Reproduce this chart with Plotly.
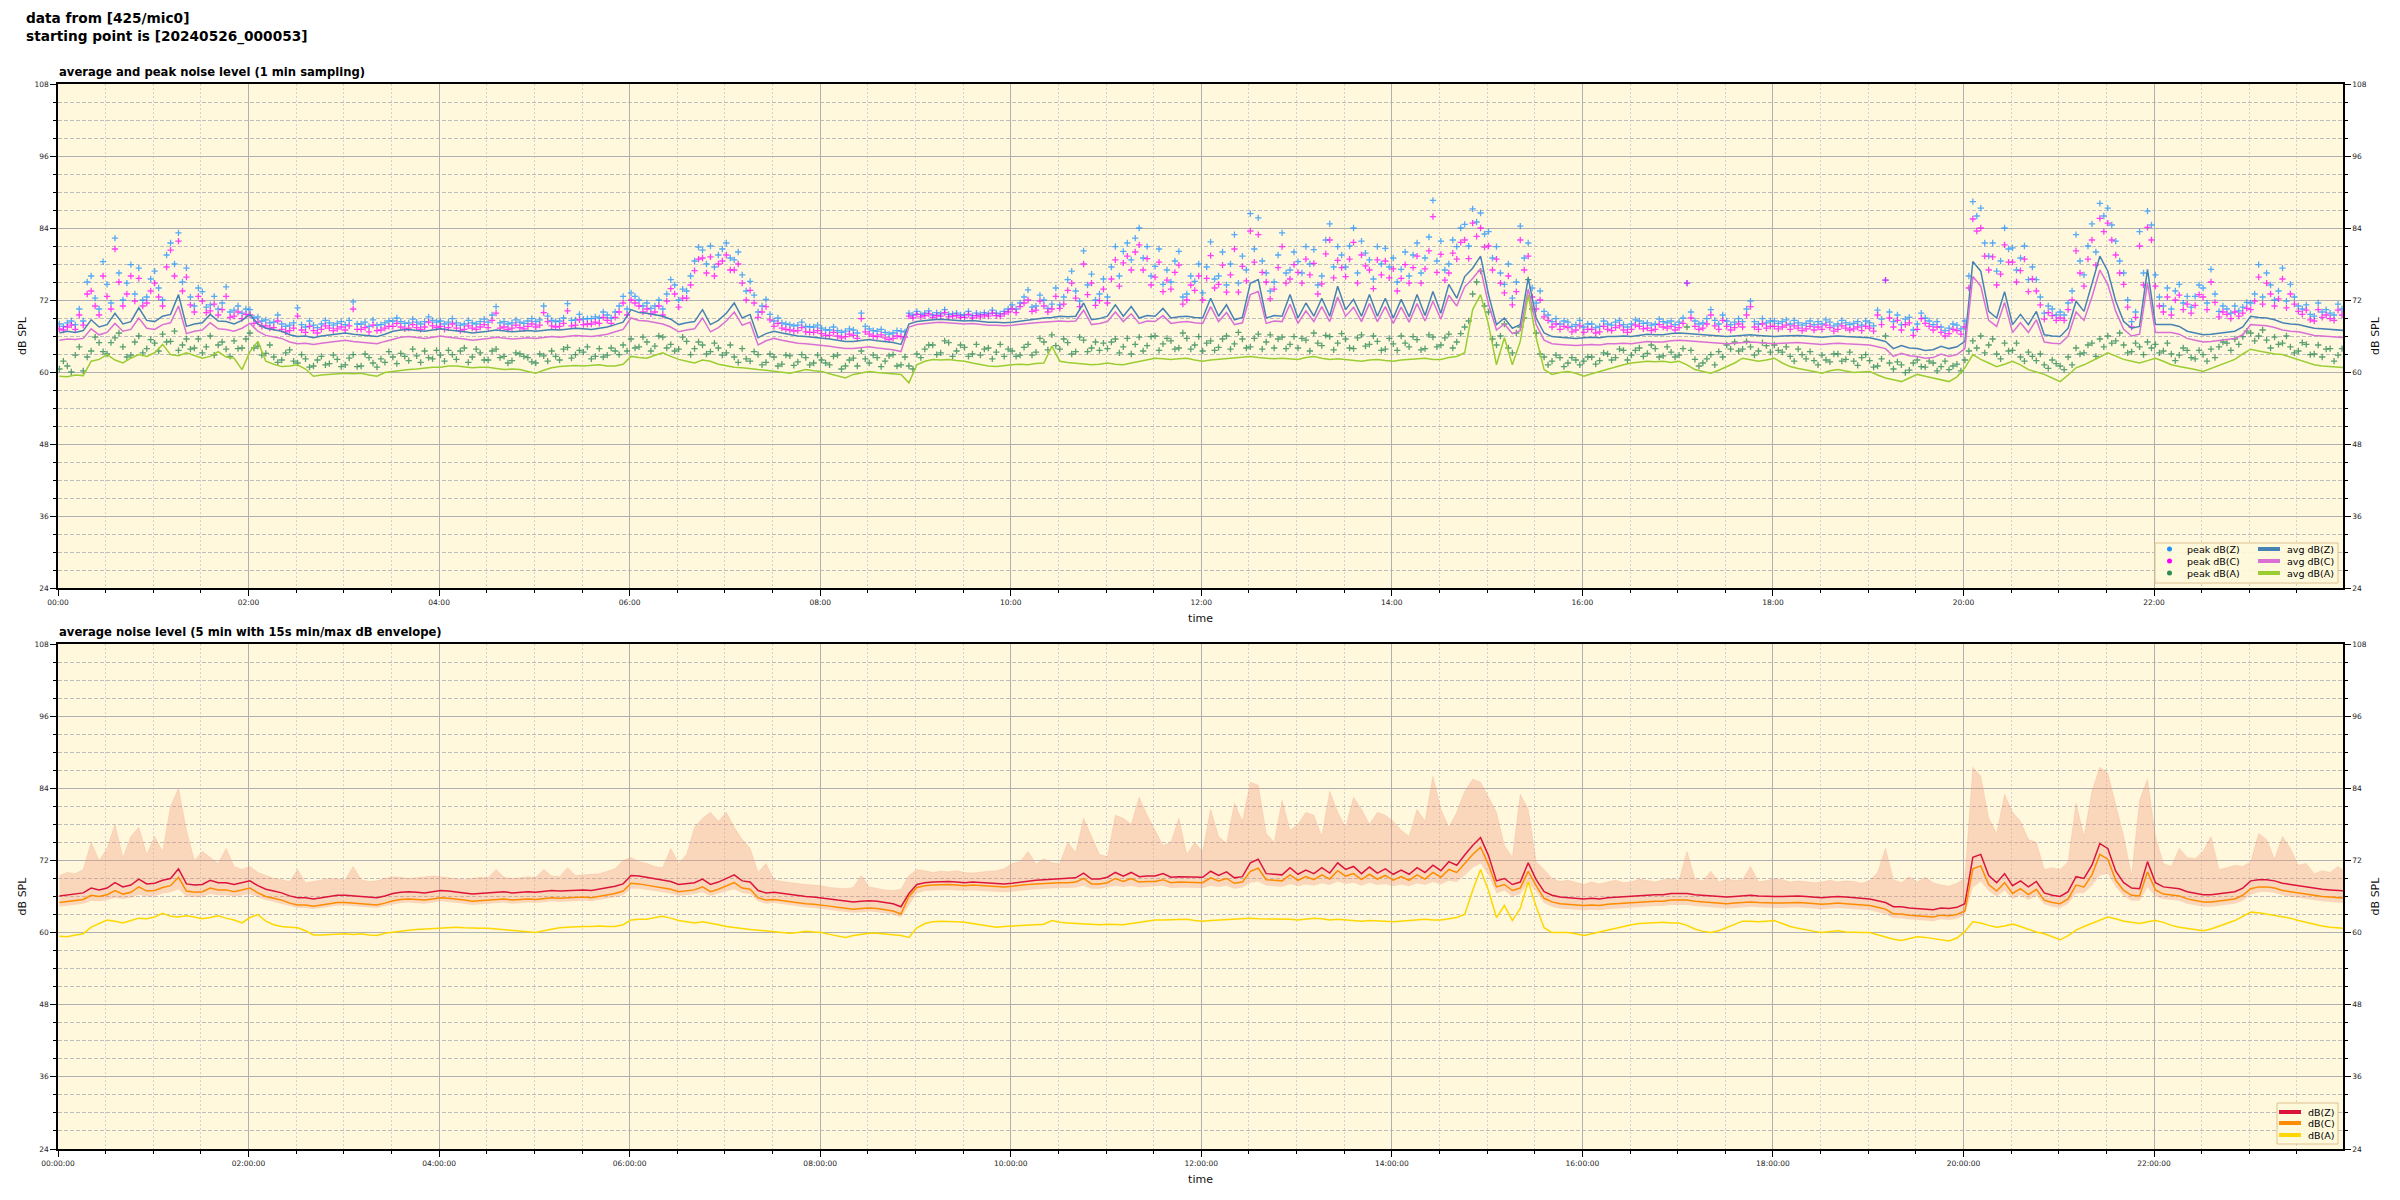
import plotly.graph_objects as go
import pandas as pd

# ---------------- data (5-minute steps, 00:00:53 -> 24:00:53) ----------------
times = pd.date_range("2024-05-26 00:00:53", periods=289, freq="5min")
# second set of peak samples, between the first ones (00:03:23 -> 23:58:23)
times2 = pd.date_range("2024-05-26 00:03:23", periods=288, freq="5min")

avg_z = [
 66.5, 66.8, 66.6, 66.9, 68.7, 67.5, 67.9, 69.8, 68.0, 68.4, 70.7, 68.6,
 68.4, 69.3, 69.6, 72.9, 67.6, 68.0, 68.2, 69.6, 68.5, 68.4, 68.0, 68.6,
 69.6, 68.0, 67.3, 67.0, 66.8, 66.2, 65.9, 66.0, 65.7, 66.0, 66.2, 66.4,
 66.5, 66.3, 66.2, 66.0, 65.9, 66.3, 66.8, 67.0, 67.1, 66.9, 66.8, 67.0,
 67.2, 67.0, 66.9, 66.7, 66.5, 66.6, 66.8, 67.0, 66.9, 66.7, 66.8, 66.9,
 66.8, 67.0, 67.1, 67.0, 67.2, 67.3, 67.2, 67.1, 67.3, 67.5, 67.9, 68.3,
 70.4, 69.9, 69.8, 69.5, 69.3, 68.8, 67.9, 68.2, 68.4, 70.4, 67.9, 68.6,
 69.8, 71.5, 69.0, 69.6, 65.7, 66.4, 66.8, 66.5, 66.2, 66.0, 65.9, 65.8,
 65.7, 65.5, 65.3, 65.1, 65.1, 65.2, 65.4, 65.2, 65.1, 64.9, 64.6, 68.0,
 68.4, 68.6, 68.7, 68.8, 68.7, 68.6, 68.5, 68.6, 68.4, 68.3, 68.3, 68.2,
 68.3, 68.5, 68.7, 68.8, 69.0, 69.1, 69.3, 69.2, 69.3, 71.5, 68.7, 68.9,
 69.3, 71.2, 69.3, 70.9, 69.0, 69.4, 69.3, 70.6, 69.0, 69.2, 69.3, 69.1,
 69.0, 72.3, 69.3, 71.2, 68.7, 69.1, 74.8, 75.4, 69.0, 69.4, 69.3, 72.9,
 69.0, 71.5, 69.3, 72.3, 69.3, 74.3, 70.4, 72.1, 69.3, 72.9, 69.3, 72.3,
 69.0, 72.1, 69.2, 72.9, 69.4, 73.4, 69.8, 74.6, 72.3, 75.9, 77.3, 79.3,
 72.9, 67.9, 69.0, 67.3, 67.9, 75.7, 69.0, 66.5, 65.9, 65.8, 65.7, 65.6,
 65.7, 65.8, 65.7, 65.9, 65.9, 66.0, 65.9, 66.1, 66.3, 66.2, 66.2, 66.4,
 66.5, 66.4, 66.3, 66.2, 66.1, 66.0, 65.9, 66.0, 66.1, 66.2, 66.1, 66.0,
 65.9, 66.0, 66.1, 66.1, 66.0, 65.9, 65.8, 65.9, 66.0, 65.9, 65.8, 65.7,
 65.7, 65.4, 65.1, 63.9, 64.4, 64.0, 63.9, 63.6, 63.7, 64.3, 63.9, 64.2,
 65.1, 78.4, 76.8, 70.1, 69.0, 73.4, 67.9, 69.6, 67.9, 70.1, 66.2, 66.0,
 65.9, 67.3, 71.8, 70.1, 74.6, 79.3, 76.8, 71.8, 68.4, 67.3, 67.6, 77.1,
 67.9, 67.9, 67.9, 67.6, 66.8, 66.5, 66.2, 66.3, 66.5, 66.6, 66.8, 67.5,
 69.3, 69.1, 69.0, 68.7, 68.2, 68.0, 67.9, 67.6, 67.3, 67.2, 67.1, 67.0,
 66.9]

avg_c = [
 65.3, 65.5, 65.4, 65.6, 67.2, 66.2, 66.6, 68.1, 66.8, 67.1, 69.0, 67.3,
 67.1, 67.9, 68.2, 71.0, 66.4, 66.8, 67.0, 68.2, 67.2, 67.1, 66.8, 67.3,
 68.1, 66.8, 66.1, 65.8, 65.6, 65.0, 64.7, 64.8, 64.6, 64.8, 65.0, 65.2,
 65.3, 65.1, 65.0, 64.8, 64.7, 65.1, 65.5, 65.8, 65.9, 65.7, 65.6, 65.8,
 66.0, 65.8, 65.7, 65.5, 65.3, 65.4, 65.6, 65.8, 65.7, 65.5, 65.6, 65.7,
 65.6, 65.8, 65.9, 65.8, 66.0, 66.1, 66.0, 65.9, 66.1, 66.3, 66.7, 67.1,
 69.0, 68.6, 68.5, 68.2, 68.0, 67.5, 66.7, 67.0, 67.2, 69.0, 66.7, 67.4,
 68.5, 70.0, 67.8, 68.3, 64.5, 65.2, 65.6, 65.3, 65.0, 64.8, 64.7, 64.6,
 64.5, 64.3, 64.1, 63.9, 63.9, 64.0, 64.2, 64.0, 63.9, 63.7, 63.4, 67.5,
 67.9, 68.1, 68.2, 68.3, 68.2, 68.1, 68.0, 68.1, 67.9, 67.8, 67.8, 67.7,
 67.8, 68.0, 68.1, 68.2, 68.3, 68.4, 68.5, 68.4, 68.5, 70.3, 67.9, 68.1,
 68.4, 70.0, 68.4, 69.7, 68.1, 68.5, 68.4, 69.4, 68.1, 68.3, 68.4, 68.2,
 68.1, 70.9, 68.4, 69.9, 67.9, 68.2, 72.9, 73.4, 68.1, 68.5, 68.4, 71.3,
 68.1, 70.2, 68.4, 70.9, 68.4, 72.5, 69.3, 70.8, 68.4, 71.4, 68.4, 70.9,
 68.1, 70.8, 68.3, 71.4, 68.5, 71.8, 68.8, 72.8, 71.0, 74.2, 75.6, 77.2,
 71.3, 67.0, 68.0, 66.4, 66.9, 73.8, 67.9, 65.3, 64.7, 64.6, 64.5, 64.4,
 64.5, 64.6, 64.5, 64.7, 64.7, 64.8, 64.7, 64.9, 65.1, 65.0, 65.0, 65.2,
 65.3, 65.2, 65.1, 65.0, 64.9, 64.8, 64.7, 64.8, 64.9, 65.0, 64.9, 64.8,
 64.7, 64.8, 64.9, 64.9, 64.8, 64.7, 64.6, 64.7, 64.8, 64.7, 64.6, 64.5,
 64.5, 64.2, 63.9, 62.6, 63.1, 62.7, 62.6, 62.3, 62.4, 63.0, 62.6, 62.9,
 63.9, 75.9, 74.3, 68.6, 67.6, 71.6, 66.6, 68.2, 66.6, 68.7, 65.0, 64.8,
 64.7, 66.0, 70.0, 68.6, 72.5, 77.0, 74.6, 70.1, 67.1, 66.0, 66.3, 74.8,
 66.6, 66.6, 66.6, 66.3, 65.6, 65.3, 65.0, 65.1, 65.3, 65.4, 65.6, 66.2,
 67.9, 67.8, 67.7, 67.4, 67.0, 66.8, 66.7, 66.4, 66.1, 66.0, 65.9, 65.8,
 65.7]

avg_a = [
 59.3, 59.2, 59.5, 59.4, 61.8, 62.1, 62.9, 62.0, 61.5, 62.3, 62.9, 62.6,
 63.2, 64.6, 62.9, 62.7, 63.2, 62.8, 62.3, 62.6, 63.4, 62.5, 62.3, 60.4,
 63.4, 65.1, 61.8, 61.3, 60.9, 61.0, 61.2, 60.5, 59.3, 59.5, 59.6, 59.8,
 59.8, 59.7, 59.8, 59.5, 59.3, 59.9, 60.1, 60.3, 60.4, 60.5, 60.7, 60.8,
 60.8, 61.0, 61.0, 60.9, 60.7, 60.8, 60.8, 60.6, 60.4, 60.5, 60.4, 60.1,
 59.8, 60.3, 60.7, 60.9, 61.0, 61.1, 61.0, 61.1, 61.2, 61.0, 61.0, 61.3,
 62.6, 62.4, 62.3, 62.8, 63.2, 62.6, 62.1, 61.8, 61.5, 62.0, 61.8, 61.3,
 61.0, 60.8, 60.7, 60.5, 60.4, 60.3, 60.1, 60.0, 59.8, 60.1, 60.4, 60.2,
 60.1, 59.7, 59.3, 59.0, 59.6, 59.8, 60.1, 59.9, 59.8, 59.7, 59.6, 58.2,
 61.2, 61.8, 62.1, 62.0, 62.1, 61.9, 61.8, 61.5, 61.2, 61.0, 60.9, 61.1,
 61.2, 61.3, 61.2, 61.4, 61.5, 64.3, 61.8, 61.6, 61.5, 61.4, 61.2, 61.3,
 61.5, 61.3, 61.2, 61.5, 61.8, 62.0, 62.3, 62.2, 62.1, 62.2, 62.3, 62.0,
 61.8, 62.0, 62.1, 62.2, 62.3, 62.4, 62.6, 62.4, 62.3, 62.2, 62.3, 62.2,
 62.1, 62.4, 62.6, 62.3, 62.1, 62.2, 62.1, 62.0, 61.8, 62.0, 62.1, 61.9,
 61.8, 62.0, 62.1, 62.3, 62.3, 62.1, 62.1, 62.4, 62.6, 63.2, 70.4, 72.9,
 67.9, 61.2, 65.7, 61.2, 65.1, 72.9, 65.7, 60.4, 59.6, 59.9, 60.1, 59.8,
 59.3, 59.7, 60.1, 60.5, 60.9, 61.2, 61.5, 61.6, 61.8, 61.7, 61.8, 61.6,
 61.8, 61.2, 60.4, 60.1, 59.8, 60.3, 60.9, 61.5, 62.3, 62.0, 61.8, 62.0,
 62.3, 61.5, 60.9, 60.6, 60.4, 60.1, 59.8, 60.2, 60.4, 60.1, 59.9, 60.0,
 60.1, 59.5, 59.0, 58.7, 58.4, 59.0, 59.6, 59.3, 59.0, 58.7, 58.4, 59.2,
 60.7, 62.9, 62.1, 61.5, 60.9, 61.3, 61.8, 61.2, 60.4, 60.0, 59.6, 59.0,
 58.4, 59.5, 60.7, 61.2, 61.8, 62.5, 63.2, 62.6, 62.1, 61.8, 61.5, 61.9,
 62.3, 61.8, 61.2, 60.9, 60.7, 60.4, 60.1, 60.6, 61.2, 61.6, 62.1, 63.0,
 63.8, 63.5, 63.2, 63.0, 62.9, 62.5, 62.1, 61.7, 61.2, 61.0, 60.9, 60.8,
 60.7]

peak_z = [
 68.0, 68.2, 67.9, 68.5, 76.0, 70.5, 74.6, 82.3, 72.0, 77.9, 77.3, 72.5,
 76.8, 72.0, 81.5, 83.2, 77.3, 71.0, 73.4, 71.2, 70.5, 74.2, 70.3, 69.8,
 70.4, 69.2, 68.7, 68.3, 68.0, 67.8, 70.7, 67.5, 67.8, 68.0, 68.2, 68.1,
 67.9, 71.7, 68.0, 67.6, 67.8, 68.2, 68.5, 68.4, 68.2, 68.3, 68.4, 68.6,
 68.5, 68.3, 68.2, 68.0, 68.2, 68.4, 68.3, 70.9, 68.4, 68.2, 68.3, 68.5,
 68.4, 71.0, 68.6, 68.5, 71.4, 68.7, 68.8, 68.9, 69.0, 69.5, 70.0, 72.6,
 73.2, 72.0, 71.5, 71.0, 70.5, 75.4, 72.0, 73.5, 78.5, 80.3, 81.0, 79.5,
 81.5, 78.7, 76.2, 75.1, 70.0, 72.1, 68.5, 68.2, 67.9, 67.8, 67.6, 67.5,
 67.3, 67.0, 66.9, 66.8, 67.0, 69.8, 67.2, 66.8, 66.6, 66.5, 66.8, 69.8,
 70.1, 69.8, 69.5, 69.7, 69.6, 69.8, 69.5, 69.4, 69.6, 69.7, 69.8, 70.1,
 71.2, 71.5, 73.7, 71.0, 72.0, 71.3, 71.2, 75.4, 73.5, 80.2, 76.3, 73.0,
 72.5, 80.9, 80.1, 78.7, 84.0, 80.9, 77.6, 74.6, 75.0, 80.1, 73.0, 75.1,
 73.2, 81.7, 76.0, 74.5, 82.9, 79.3, 86.4, 85.7, 76.5, 75.0, 83.2, 77.0,
 78.4, 80.9, 80.4, 76.0, 84.7, 80.9, 77.5, 84.0, 81.8, 78.7, 80.9, 80.6,
 79.0, 77.1, 76.0, 81.5, 79.0, 88.6, 81.8, 78.0, 80.9, 84.6, 87.2, 86.5,
 83.4, 80.9, 74.6, 72.3, 84.3, 81.5, 71.5, 70.1, 68.4, 68.0, 68.3, 67.9,
 67.5, 68.0, 67.6, 68.0, 68.3, 67.9, 68.0, 68.5, 68.2, 68.0, 68.4, 68.5,
 68.3, 74.8, 68.5, 68.2, 70.4, 68.0, 68.5, 68.3, 68.4, 71.8, 68.0, 68.2,
 68.5, 68.4, 68.0, 68.2, 68.1, 67.9, 68.0, 68.3, 68.0, 68.2, 68.1, 67.8,
 68.2, 70.3, 75.3, 68.4, 67.9, 69.1, 68.0, 69.0, 67.9, 67.5, 67.3, 67.8,
 68.5, 88.4, 87.3, 79.3, 76.8, 84.0, 80.7, 79.0, 75.4, 75.4, 69.8, 70.5,
 70.0, 71.5, 82.9, 76.2, 84.7, 88.1, 87.3, 81.8, 76.5, 68.4, 83.4, 86.8,
 76.2, 71.0, 70.5, 74.6, 72.6, 72.6, 74.0, 77.1, 70.1, 70.5, 71.0, 70.8,
 71.5, 77.9, 76.5, 72.0, 77.3, 74.6, 71.0, 71.2, 69.3, 70.0, 69.8, 71.3,
 70.0]

peak_z2 = [
 67.6, 68.5, 70.5, 75.0, 72.3, 78.4, 71.5, 76.5, 74.8, 73.0, 72.0, 75.5,
 74.0, 79.5, 78.0, 75.0, 72.5, 74.0, 70.8, 72.6, 71.5, 70.0, 71.0, 70.5,
 69.0, 68.5, 68.2, 69.5, 67.6, 68.2, 67.9, 68.5, 67.4, 68.6, 67.8, 68.4,
 68.6, 68.0, 68.3, 68.7, 67.9, 68.5, 69.0, 68.1, 68.8, 68.0, 69.2, 68.3,
 68.0, 68.9, 67.8, 68.6, 68.0, 68.8, 69.5, 68.2, 68.0, 68.7, 68.1, 68.9,
 68.7, 69.3, 68.4, 69.0, 68.6, 69.6, 68.9, 69.2, 70.0, 69.0, 71.0, 70.5,
 72.6, 71.0, 70.6, 72.0, 73.0, 74.5, 73.8, 76.0, 80.8, 78.0, 77.5, 80.5,
 79.0, 80.0, 73.5, 72.8, 71.0, 69.6, 69.0, 68.0, 67.7, 68.3, 67.5, 67.8,
 67.0, 67.5, 66.6, 67.2, 66.5, 67.6, 66.9, 67.1, 66.3, 66.9, 66.7, 69.5,
 69.6, 70.2, 69.9, 70.4, 69.7, 69.5, 70.1, 69.8, 69.9, 70.3, 69.7, 70.5,
 70.5, 72.5, 70.8, 72.8, 70.6, 74.0, 72.5, 76.8, 71.8, 74.5, 72.0, 75.5,
 77.5, 76.0, 81.5, 82.3, 79.0, 76.0, 80.5, 77.0, 78.5, 72.5, 76.0, 78.0,
 77.5, 75.5, 80.0, 78.0, 74.8, 77.0, 80.5, 78.5, 73.5, 79.5, 76.5, 80.0,
 76.5, 78.0, 74.5, 82.0, 77.5, 79.5, 81.0, 76.5, 79.8, 75.5, 78.0, 77.5,
 75.0, 80.0, 79.5, 76.5, 82.5, 78.5, 77.0, 82.0, 84.0, 81.0, 85.0, 83.0,
 79.0, 76.5, 78.0, 75.0, 79.0, 74.0, 73.5, 69.5, 68.9, 68.5, 67.6, 68.6,
 68.0, 67.4, 68.5, 67.8, 68.6, 67.5, 68.7, 68.1, 67.8, 68.8, 68.2, 67.9,
 69.0, 70.0, 68.0, 68.9, 68.6, 69.5, 67.9, 68.9, 70.5, 68.4, 68.9, 68.5,
 68.1, 68.7, 68.6, 67.8, 68.5, 68.4, 68.7, 67.7, 68.6, 67.9, 68.4, 68.5,
 67.7, 68.8, 70.0, 69.5, 68.8, 67.0, 69.8, 68.5, 68.4, 66.9, 68.0, 67.2,
 76.0, 86.0, 81.5, 81.5, 78.5, 80.5, 77.0, 81.0, 77.5, 72.5, 71.0, 69.5,
 69.5, 73.5, 78.5, 81.0, 80.0, 86.0, 84.5, 78.5, 72.0, 70.0, 76.5, 84.5,
 72.5, 74.0, 73.5, 71.5, 70.8, 74.5, 71.5, 73.0, 71.0, 69.8, 70.2, 71.6,
 73.0, 72.5, 74.5, 73.5, 71.8, 72.5, 70.5, 69.6, 71.5, 70.4, 69.5, 70.5]

peak_c = [
 67.2, 67.5, 67.1, 67.8, 73.5, 69.5, 72.6, 80.5, 71.0, 76.0, 75.6, 71.5,
 74.8, 71.0, 80.3, 81.8, 75.8, 70.0, 71.8, 70.2, 69.5, 72.6, 69.3, 68.9,
 69.5, 68.3, 67.7, 67.4, 67.1, 66.9, 69.3, 66.6, 66.9, 67.1, 67.3, 67.2,
 67.0, 70.5, 67.1, 66.7, 66.9, 67.3, 67.6, 67.5, 67.3, 67.4, 67.5, 67.7,
 67.6, 67.4, 67.3, 67.1, 67.3, 67.5, 67.4, 69.8, 67.5, 67.3, 67.4, 67.6,
 67.5, 69.9, 67.7, 67.6, 70.2, 67.8, 67.9, 68.0, 68.1, 68.6, 69.1, 71.5,
 72.0, 71.0, 70.5, 70.0, 69.5, 73.9, 70.8, 72.3, 76.9, 79.0, 79.2, 78.0,
 79.5, 77.0, 74.8, 73.6, 69.1, 70.9, 67.6, 67.3, 67.0, 66.9, 66.7, 66.6,
 66.4, 66.1, 66.0, 65.9, 66.1, 68.9, 66.3, 65.9, 65.7, 65.6, 65.9, 69.3,
 69.6, 69.4, 69.1, 69.3, 69.2, 69.4, 69.1, 69.0, 69.2, 69.3, 69.4, 69.7,
 70.5, 70.9, 72.0, 70.3, 71.0, 70.5, 70.6, 73.6, 72.3, 78.0, 74.8, 71.9,
 71.5, 78.7, 78.2, 77.0, 81.2, 78.9, 75.8, 73.4, 73.8, 77.8, 72.0, 73.6,
 72.0, 79.4, 74.6, 73.3, 80.5, 77.6, 83.5, 82.9, 75.0, 73.8, 80.9, 75.5,
 76.6, 78.8, 78.1, 74.7, 82.0, 78.6, 75.9, 81.6, 79.5, 77.0, 78.7, 78.5,
 77.2, 75.6, 74.8, 79.3, 77.2, 85.9, 79.6, 76.5, 78.8, 82.0, 84.8, 84.0,
 81.0, 78.8, 73.2, 71.2, 82.0, 79.3, 70.5, 69.2, 67.5, 67.1, 67.4, 67.0,
 66.6, 67.1, 66.7, 67.1, 67.4, 67.0, 67.1, 67.6, 67.3, 67.1, 67.5, 67.6,
 67.4, 74.8, 67.6, 67.3, 69.5, 67.1, 67.6, 67.4, 67.5, 70.9, 67.1, 67.3,
 67.6, 67.5, 67.1, 67.3, 67.2, 67.0, 67.1, 67.4, 67.1, 67.3, 67.2, 66.9,
 67.3, 69.5, 75.3, 67.5, 67.0, 68.2, 67.1, 68.1, 67.0, 66.6, 66.4, 66.9,
 67.5, 85.5, 84.0, 77.0, 74.5, 81.2, 78.3, 76.9, 73.4, 73.5, 68.8, 69.4,
 69.0, 70.4, 80.2, 74.3, 82.0, 85.6, 84.8, 79.5, 74.6, 67.5, 81.0, 84.1,
 74.3, 70.0, 69.5, 72.8, 71.3, 71.1, 72.5, 75.0, 69.2, 69.6, 70.0, 69.8,
 70.4, 75.8, 74.8, 71.0, 75.5, 73.0, 70.1, 70.3, 68.5, 69.1, 68.9, 70.3,
 69.0]

peak_c2 = [
 67.0, 67.8, 69.5, 73.0, 71.0, 76.0, 70.5, 75.0, 73.0, 71.8, 71.0, 73.5,
 72.5, 77.5, 76.0, 73.5, 71.2, 72.6, 69.9, 71.3, 70.4, 69.1, 70.0, 69.6,
 68.1, 67.6, 67.3, 68.5, 66.7, 67.3, 67.0, 67.6, 66.5, 67.7, 66.9, 67.5,
 67.7, 67.1, 67.4, 67.8, 67.0, 67.6, 68.1, 67.2, 67.9, 67.1, 68.3, 67.4,
 67.1, 68.0, 66.9, 67.7, 67.1, 67.9, 68.6, 67.3, 67.1, 67.8, 67.2, 68.0,
 67.8, 68.4, 67.5, 68.1, 67.7, 68.7, 68.0, 68.3, 69.1, 68.1, 70.0, 69.5,
 71.5, 70.0, 69.7, 71.0, 71.8, 73.0, 72.3, 74.5, 78.8, 76.5, 76.0, 78.5,
 77.0, 78.0, 72.0, 71.5, 70.0, 68.7, 68.1, 67.1, 66.8, 67.4, 66.6, 66.9,
 66.1, 66.6, 65.7, 66.3, 65.6, 66.7, 66.0, 66.2, 65.4, 66.0, 65.8, 69.0,
 69.2, 69.7, 69.4, 69.9, 69.3, 69.1, 69.6, 69.4, 69.5, 69.8, 69.3, 70.0,
 69.9, 71.5, 70.1, 71.8, 70.0, 72.6, 71.3, 74.8, 70.9, 72.9, 71.1, 73.8,
 75.5, 74.3, 79.3, 80.0, 77.0, 74.5, 78.3, 75.3, 76.6, 71.3, 74.5, 76.0,
 75.6, 74.0, 77.8, 76.2, 73.3, 75.2, 78.3, 76.6, 72.2, 77.4, 74.8, 77.9,
 74.8, 76.2, 73.0, 79.7, 75.7, 77.4, 78.8, 74.8, 77.7, 73.9, 76.2, 75.7,
 73.5, 77.9, 77.4, 74.8, 80.2, 76.6, 75.3, 79.8, 81.6, 78.9, 82.6, 80.8,
 77.0, 74.8, 76.0, 73.4, 77.0, 72.5, 72.0, 68.6, 68.0, 67.6, 66.7, 67.7,
 67.1, 66.5, 67.6, 66.9, 67.7, 66.6, 67.8, 67.2, 66.9, 67.9, 67.3, 67.0,
 68.1, 69.0, 67.1, 68.0, 67.7, 68.6, 67.0, 68.0, 69.5, 67.5, 68.0, 67.6,
 67.2, 67.8, 67.7, 66.9, 67.6, 67.5, 67.8, 66.8, 67.7, 67.0, 67.5, 67.6,
 66.8, 67.9, 69.0, 68.6, 67.9, 66.1, 68.9, 67.6, 67.5, 66.0, 67.1, 66.3,
 74.0, 83.5, 79.3, 79.2, 76.3, 78.3, 75.0, 78.8, 75.5, 71.2, 69.9, 68.6,
 68.6, 72.0, 76.5, 78.8, 77.8, 83.4, 82.0, 76.5, 70.8, 69.1, 74.5, 82.0,
 71.0, 72.5, 72.0, 70.4, 69.8, 72.9, 70.4, 71.6, 70.0, 68.9, 69.3, 70.6,
 71.8, 71.3, 73.0, 72.2, 70.7, 71.3, 69.6, 68.7, 70.4, 69.5, 68.6, 69.5]

peak_a = [
 60.5, 61.0, 62.8, 60.2, 63.5, 64.9, 63.0, 65.7, 64.2, 62.8, 66.0, 63.9,
 64.8, 66.3, 65.1, 63.6, 65.5, 64.0, 63.2, 66.0, 64.5, 63.8, 65.2, 64.0,
 66.5, 64.3, 63.1, 62.5, 62.0, 63.7, 61.5, 62.2, 61.0, 62.6, 61.4, 62.1,
 61.2, 62.9, 61.0, 62.4, 60.8, 61.6, 62.5, 63.1, 61.9, 62.7, 63.5, 62.2,
 62.8, 63.6, 62.1, 64.0, 62.5, 63.2, 62.0, 63.8, 62.6, 61.9, 63.0, 62.4,
 61.5, 62.7, 63.5, 62.0, 64.1, 62.9, 63.3, 62.2, 63.9, 62.8, 63.5, 64.5,
 65.5, 64.2, 65.0, 64.3, 65.8, 64.6, 63.8, 65.1, 63.9, 64.5, 63.4, 64.0,
 63.2, 62.5, 63.9, 61.8, 62.9, 61.6, 62.5, 61.3, 62.7, 61.7, 62.4, 61.5,
 62.0, 61.2, 62.8, 61.0, 62.3, 63.5, 61.5, 62.4, 61.8, 62.9, 61.2, 61.0,
 63.0, 63.8, 64.5, 63.2, 64.9, 63.5, 64.1, 63.0, 62.8, 64.0, 63.3, 62.6,
 63.5, 62.8, 64.6, 63.3, 65.0, 66.2, 63.8, 64.9, 63.4, 65.3, 64.0, 63.6,
 63.9, 65.5, 64.2, 63.0, 65.8, 64.4, 66.0, 64.7, 65.2, 64.0, 65.6, 64.5,
 63.5, 65.2, 64.1, 66.0, 64.7, 65.5, 64.2, 66.3, 65.0, 64.0, 65.8, 64.6,
 64.0, 65.3, 66.5, 64.4, 65.9, 64.8, 65.5, 63.9, 66.2, 64.6, 65.1, 63.8,
 64.7, 66.0, 64.2, 65.4, 63.9, 65.8, 64.5, 66.3, 65.0, 67.5, 73.0, 76.8,
 70.0, 64.5, 68.0, 63.2, 67.5, 75.4, 66.5, 62.5, 61.8, 62.4, 61.5, 62.0,
 61.8, 62.5, 61.9, 63.0, 62.4, 63.6, 62.8, 64.0, 63.1, 63.9, 62.7, 63.3,
 62.8, 67.5, 62.1, 61.5, 62.9, 63.4, 64.5, 65.0, 63.8, 64.2, 63.5, 64.4,
 64.5, 63.3, 62.6, 63.8, 62.2, 61.9, 62.8, 61.7, 63.0, 62.1, 61.8, 62.4,
 61.9, 61.0, 66.0, 60.5, 61.2, 60.3, 62.0, 60.8, 61.5, 60.9, 60.4, 61.3,
 62.0, 65.2, 66.0, 64.5, 63.0, 64.8, 63.6, 62.5, 63.3, 61.9, 61.2, 62.0,
 61.0, 62.5, 64.0, 63.2, 64.8, 65.5, 66.0, 65.2, 64.5, 63.4, 64.2, 65.0,
 64.6, 63.5, 63.0, 62.8, 63.6, 62.2, 62.9, 63.8, 64.2, 64.8, 65.5, 65.9,
 66.5, 66.0, 65.3, 65.8, 64.8, 64.2, 63.5, 64.6, 63.0, 62.5, 63.9, 62.8,
 62.5]

peak_a2 = [
 61.8, 60.0, 64.2, 62.5, 65.8, 63.4, 64.9, 66.5, 62.5, 65.0, 63.2, 65.4,
 63.5, 65.0, 66.8, 64.5, 63.8, 65.5, 64.2, 62.8, 65.0, 62.6, 63.9, 65.5,
 64.0, 62.8, 64.5, 61.6, 63.2, 61.8, 62.9, 60.8, 62.0, 61.2, 62.8, 60.9,
 62.3, 60.9, 63.0, 61.5, 62.2, 63.4, 61.4, 62.6, 63.8, 61.6, 62.4, 63.6,
 61.8, 62.9, 63.5, 61.6, 63.8, 62.0, 63.5, 62.4, 61.5, 63.2, 62.6, 61.7,
 63.0, 61.8, 62.6, 63.8, 62.3, 63.6, 64.2, 62.6, 62.5, 64.0, 62.9, 63.5,
 64.0, 65.8, 63.5, 66.0, 64.0, 63.5, 65.8, 62.9, 65.0, 63.0, 64.8, 62.8,
 64.5, 61.6, 62.2, 63.4, 61.2, 63.0, 61.0, 62.8, 61.1, 62.9, 61.2, 62.8,
 61.5, 62.6, 60.5, 62.0, 61.0, 62.2, 62.8, 60.9, 62.7, 61.0, 62.5, 60.5,
 62.4, 64.5, 62.9, 65.2, 62.6, 64.5, 62.6, 64.6, 63.8, 62.2, 64.6, 63.8,
 62.6, 64.1, 62.8, 65.6, 63.7, 64.4, 65.5, 63.0, 65.8, 63.4, 65.0, 64.8,
 65.0, 63.2, 65.6, 64.6, 63.5, 65.9, 63.6, 65.6, 63.8, 66.5, 63.8, 65.9,
 64.8, 63.6, 65.5, 63.8, 66.6, 64.0, 65.6, 63.8, 66.2, 65.5, 63.9, 65.9,
 65.6, 63.5, 64.8, 66.1, 63.7, 66.4, 64.0, 65.7, 64.3, 66.0, 63.6, 65.6,
 63.6, 64.8, 65.9, 63.7, 66.2, 64.2, 65.7, 64.0, 66.4, 68.5, 75.0, 71.0,
 65.5, 66.0, 64.0, 66.5, 69.0, 70.5, 63.0, 61.2, 62.8, 60.9, 62.4, 61.2,
 62.5, 61.3, 63.2, 62.0, 63.8, 62.0, 63.6, 62.6, 64.5, 62.5, 64.2, 62.5,
 63.9, 63.6, 61.0, 62.2, 61.2, 62.5, 63.8, 63.5, 65.1, 62.8, 64.9, 63.3,
 63.6, 64.2, 61.8, 62.9, 63.4, 61.2, 62.0, 63.0, 61.8, 63.3, 61.1, 62.9,
 60.8, 62.2, 61.5, 61.7, 59.9, 61.5, 60.9, 61.8, 60.2, 61.8, 61.0, 60.2,
 63.5, 64.0, 63.2, 65.5, 62.2, 63.5, 64.8, 61.8, 62.6, 63.0, 60.6, 61.4,
 60.4, 61.2, 63.0, 64.5, 62.6, 64.2, 64.8, 66.5, 63.2, 64.8, 62.9, 64.0,
 63.2, 64.8, 61.9, 64.0, 62.4, 63.6, 61.8, 62.4, 65.0, 63.6, 64.6, 66.8,
 65.2, 67.0, 64.0, 64.6, 66.0, 63.2, 64.9, 62.9, 64.5, 63.8, 61.8, 63.9]

lvl_z = [
 66.1, 66.3, 66.4, 66.6, 67.4, 67.1, 67.4, 68.3, 67.6, 67.9, 68.9, 68.1,
 68.2, 68.7, 69.0, 70.6, 68.1, 67.9, 68.0, 68.7, 68.3, 68.3, 68.0, 68.3,
 68.6, 67.8, 67.2, 66.9, 66.6, 66.1, 65.8, 65.8, 65.6, 65.8, 66.0, 66.2,
 66.2, 66.1, 66.0, 65.9, 65.8, 66.1, 66.5, 66.7, 66.8, 66.7, 66.6, 66.8,
 67.0, 66.9, 66.8, 66.6, 66.4, 66.5, 66.7, 66.8, 66.8, 66.6, 66.7, 66.8,
 66.7, 66.9, 67.0, 66.9, 67.0, 67.1, 67.1, 67.0, 67.2, 67.4, 67.7, 68.1,
 69.5, 69.4, 69.2, 69.0, 68.8, 68.5, 68.0, 68.1, 68.3, 68.9, 68.0, 68.4,
 69.0, 69.6, 68.6, 68.4, 67.0, 66.6, 66.7, 66.5, 66.3, 66.1, 66.0, 65.9,
 65.8, 65.6, 65.4, 65.2, 65.1, 65.2, 65.3, 65.2, 65.0, 64.8, 64.3, 66.5,
 68.0, 68.3, 68.4, 68.5, 68.5, 68.4, 68.3, 68.4, 68.3, 68.2, 68.2, 68.1,
 68.2, 68.4, 68.6, 68.7, 68.8, 68.9, 69.0, 69.0, 69.1, 69.9, 68.9, 68.9,
 69.2, 70.0, 69.4, 70.0, 69.3, 69.4, 69.4, 69.8, 69.2, 69.3, 69.3, 69.2,
 69.2, 70.2, 69.5, 70.1, 69.1, 69.3, 71.6, 72.2, 69.8, 69.7, 69.6, 70.8,
 69.7, 70.4, 69.8, 70.8, 69.9, 71.6, 70.5, 71.0, 69.8, 70.9, 69.9, 70.6,
 69.7, 70.4, 69.7, 70.8, 70.0, 71.2, 70.3, 71.8, 71.2, 72.9, 74.5, 75.8,
 72.8, 68.6, 69.0, 68.0, 68.4, 71.6, 68.8, 66.8, 66.2, 65.9, 65.8, 65.6,
 65.6, 65.7, 65.6, 65.8, 65.9, 66.0, 66.0, 66.1, 66.3, 66.3, 66.3, 66.5,
 66.5, 66.5, 66.3, 66.2, 66.1, 66.0, 65.9, 66.0, 66.1, 66.2, 66.1, 66.0,
 66.0, 66.0, 66.1, 66.1, 66.0, 65.9, 65.8, 65.9, 66.0, 65.9, 65.8, 65.7,
 65.6, 65.3, 65.0, 64.3, 64.3, 64.1, 64.0, 63.8, 63.8, 64.1, 64.0, 64.2,
 64.8, 72.5, 73.0, 69.5, 68.3, 69.8, 67.8, 68.6, 67.6, 68.5, 66.6, 66.2,
 66.0, 66.8, 69.3, 69.0, 71.2, 74.8, 74.0, 70.2, 68.3, 67.4, 67.3, 71.8,
 68.3, 67.6, 67.4, 67.3, 66.8, 66.5, 66.3, 66.3, 66.5, 66.6, 66.8, 67.4,
 68.6, 68.8, 68.8, 68.6, 68.2, 68.0, 67.8, 67.6, 67.3, 67.2, 67.1, 67.0,
 66.9]

lvl_c = [
 65.0, 65.2, 65.3, 65.5, 66.2, 66.0, 66.3, 67.0, 66.4, 66.7, 67.6, 66.9,
 67.0, 67.5, 67.8, 69.2, 66.9, 66.7, 66.8, 67.4, 67.1, 67.1, 66.8, 67.1,
 67.4, 66.6, 66.0, 65.7, 65.4, 64.9, 64.6, 64.6, 64.4, 64.6, 64.8, 65.0,
 65.0, 64.9, 64.8, 64.7, 64.6, 64.9, 65.3, 65.5, 65.6, 65.5, 65.4, 65.6,
 65.8, 65.7, 65.6, 65.4, 65.2, 65.3, 65.5, 65.6, 65.6, 65.4, 65.5, 65.6,
 65.5, 65.7, 65.8, 65.7, 65.8, 65.9, 65.9, 65.8, 66.0, 66.2, 66.5, 66.9,
 68.2, 68.1, 67.9, 67.7, 67.5, 67.2, 66.8, 66.9, 67.1, 67.6, 66.8, 67.2,
 67.8, 68.3, 67.4, 67.2, 65.8, 65.4, 65.5, 65.3, 65.1, 64.9, 64.8, 64.7,
 64.6, 64.4, 64.2, 64.0, 63.9, 64.0, 64.1, 64.0, 63.8, 63.6, 63.1, 66.0,
 67.5, 67.8, 67.9, 68.0, 68.0, 67.9, 67.8, 67.9, 67.8, 67.7, 67.7, 67.6,
 67.7, 67.9, 68.0, 68.1, 68.2, 68.2, 68.3, 68.3, 68.4, 69.0, 68.1, 68.1,
 68.3, 69.0, 68.5, 69.0, 68.4, 68.5, 68.5, 68.8, 68.3, 68.4, 68.4, 68.3,
 68.3, 69.1, 68.6, 69.0, 68.2, 68.4, 70.2, 70.7, 68.8, 68.7, 68.6, 69.6,
 68.7, 69.3, 68.8, 69.6, 68.9, 70.3, 69.4, 69.8, 68.8, 69.7, 68.9, 69.5,
 68.7, 69.3, 68.7, 69.6, 68.9, 70.0, 69.2, 70.5, 70.0, 71.5, 73.0, 74.2,
 71.3, 67.6, 68.0, 67.0, 67.4, 70.2, 67.8, 65.7, 65.1, 64.8, 64.7, 64.5,
 64.5, 64.6, 64.5, 64.7, 64.8, 64.9, 64.9, 65.0, 65.2, 65.2, 65.2, 65.4,
 65.4, 65.4, 65.2, 65.1, 65.0, 64.9, 64.8, 64.9, 65.0, 65.1, 65.0, 64.9,
 64.9, 64.9, 65.0, 65.0, 64.9, 64.8, 64.7, 64.8, 64.9, 64.8, 64.7, 64.6,
 64.5, 64.2, 63.9, 63.1, 63.1, 62.9, 62.8, 62.6, 62.6, 62.9, 62.8, 63.0,
 63.6, 70.6, 71.1, 68.0, 66.9, 68.3, 66.5, 67.3, 66.3, 67.2, 65.4, 65.0,
 64.8, 65.6, 67.9, 67.6, 69.6, 73.0, 72.2, 68.7, 67.0, 66.2, 66.1, 70.1,
 67.1, 66.4, 66.2, 66.1, 65.6, 65.3, 65.1, 65.1, 65.3, 65.4, 65.6, 66.2,
 67.3, 67.6, 67.6, 67.4, 67.0, 66.8, 66.6, 66.4, 66.1, 66.0, 65.9, 65.8,
 65.7]

lvl_a = [
 59.4, 59.3, 59.6, 59.8, 60.9, 61.5, 62.1, 61.9, 61.6, 62.0, 62.4, 62.3,
 62.6, 63.2, 62.7, 62.6, 62.8, 62.6, 62.3, 62.5, 62.8, 62.4, 62.1, 61.6,
 62.5, 63.0, 61.9, 61.3, 61.0, 60.9, 60.8, 60.3, 59.6, 59.6, 59.7, 59.8,
 59.8, 59.7, 59.8, 59.6, 59.5, 59.9, 60.1, 60.3, 60.4, 60.5, 60.6, 60.7,
 60.8, 60.9, 60.9, 60.8, 60.7, 60.7, 60.7, 60.6, 60.4, 60.4, 60.3, 60.1,
 60.0, 60.3, 60.6, 60.8, 60.9, 61.0, 61.0, 61.0, 61.1, 61.0, 61.0, 61.3,
 62.1, 62.2, 62.2, 62.5, 62.7, 62.4, 62.0, 61.8, 61.6, 61.8, 61.6, 61.3,
 61.0, 60.8, 60.7, 60.5, 60.4, 60.3, 60.1, 60.0, 59.9, 60.0, 60.2, 60.1,
 60.0, 59.7, 59.4, 59.2, 59.5, 59.7, 59.9, 59.9, 59.8, 59.7, 59.5, 59.2,
 60.8, 61.5, 61.8, 61.9, 61.9, 61.8, 61.7, 61.5, 61.2, 61.0, 60.9, 61.0,
 61.1, 61.2, 61.2, 61.3, 61.4, 62.0, 61.7, 61.6, 61.5, 61.4, 61.3, 61.3,
 61.4, 61.3, 61.3, 61.5, 61.7, 61.9, 62.1, 62.1, 62.1, 62.1, 62.2, 62.0,
 61.9, 62.0, 62.1, 62.1, 62.2, 62.3, 62.4, 62.3, 62.3, 62.2, 62.2, 62.2,
 62.1, 62.3, 62.4, 62.3, 62.1, 62.2, 62.1, 62.0, 61.9, 62.0, 62.0, 61.9,
 61.8, 61.9, 62.0, 62.2, 62.2, 62.1, 62.1, 62.3, 62.5, 63.0, 67.0, 70.5,
 67.0, 62.5, 64.5, 62.0, 64.0, 68.5, 64.3, 60.8, 60.0, 60.0, 60.0, 59.8,
 59.5, 59.8, 60.1, 60.4, 60.8, 61.1, 61.3, 61.5, 61.6, 61.6, 61.7, 61.6,
 61.6, 61.2, 60.6, 60.2, 60.0, 60.3, 60.8, 61.3, 61.9, 61.9, 61.8, 61.9,
 62.0, 61.5, 61.0, 60.7, 60.4, 60.2, 60.0, 60.2, 60.3, 60.1, 60.0, 60.0,
 60.0, 59.6, 59.2, 58.9, 58.7, 59.0, 59.3, 59.2, 59.0, 58.8, 58.6, 59.1,
 60.2, 61.8, 61.6, 61.2, 60.9, 61.1, 61.4, 61.0, 60.5, 60.1, 59.8, 59.3,
 58.8, 59.5, 60.4, 61.0, 61.5, 62.1, 62.6, 62.3, 61.9, 61.7, 61.5, 61.8,
 62.0, 61.7, 61.2, 60.9, 60.7, 60.5, 60.3, 60.6, 61.1, 61.5, 62.0, 62.7,
 63.4, 63.3, 63.1, 62.9, 62.7, 62.4, 62.0, 61.7, 61.3, 61.1, 60.9, 60.8,
 60.7]

env_max = [
 69.5, 70.0, 69.8, 70.5, 75.0, 72.0, 74.0, 78.0, 72.5, 76.0, 77.5, 73.0,
 76.0, 73.5, 81.0, 84.0, 77.0, 72.0, 73.5, 72.5, 71.5, 74.0, 71.0, 70.5,
 71.0, 70.0, 69.5, 69.0, 68.8, 68.5, 70.5, 68.3, 68.5, 68.8, 69.0, 68.9,
 68.8, 71.0, 68.8, 68.5, 68.6, 69.0, 69.3, 69.2, 69.0, 69.1, 69.2, 69.4,
 69.3, 69.1, 69.0, 68.8, 69.0, 69.2, 69.1, 70.5, 69.2, 69.0, 69.1, 69.3,
 69.2, 70.5, 69.4, 69.3, 70.8, 69.5, 69.6, 69.7, 69.8, 70.2, 70.6, 72.0,
 72.5, 71.8, 71.5, 71.0, 70.8, 74.0, 71.5, 73.0, 77.5, 79.0, 80.0, 78.5,
 80.0, 77.5, 75.5, 74.0, 70.0, 71.5, 68.8, 68.5, 68.3, 68.2, 68.0, 67.9,
 67.8, 67.5, 67.4, 67.3, 67.5, 69.5, 67.6, 67.3, 67.1, 67.0, 67.2, 69.5,
 70.5, 70.3, 70.0, 70.2, 70.1, 70.3, 70.0, 69.9, 70.1, 70.2, 70.3, 70.6,
 71.5, 71.8, 73.5, 71.4, 72.3, 71.6, 71.5, 75.0, 73.3, 79.0, 76.0, 73.0,
 72.6, 79.5, 79.0, 78.0, 82.5, 79.5, 77.0, 74.5, 75.0, 79.0, 73.0, 75.0,
 73.5, 80.5, 76.0, 74.8, 81.5, 78.5, 85.0, 84.5, 76.5, 75.0, 82.0, 77.0,
 78.0, 80.0, 79.5, 76.0, 83.5, 80.0, 77.5, 82.5, 80.5, 78.0, 80.0, 79.5,
 78.5, 77.0, 76.0, 80.5, 78.5, 86.0, 80.5, 77.5, 80.0, 83.5, 85.5, 85.0,
 82.5, 80.0, 74.5, 72.5, 83.0, 80.5, 71.8, 70.5, 69.0, 68.5, 68.7, 68.3,
 68.0, 68.4, 68.1, 68.4, 68.7, 68.3, 68.4, 68.9, 68.6, 68.4, 68.8, 68.9,
 68.7, 73.5, 68.9, 68.6, 70.2, 68.4, 68.9, 68.7, 68.8, 71.0, 68.4, 68.6,
 68.9, 68.8, 68.4, 68.6, 68.5, 68.3, 68.4, 68.7, 68.4, 68.6, 68.5, 68.2,
 68.6, 70.0, 74.0, 68.8, 68.3, 69.3, 68.4, 69.2, 68.3, 67.9, 67.7, 68.2,
 69.0, 87.5, 86.0, 79.0, 76.5, 83.0, 80.0, 78.5, 75.5, 75.0, 70.5, 70.8,
 70.5, 71.8, 81.5, 76.0, 83.5, 87.5, 86.5, 81.0, 76.0, 69.5, 82.0, 85.5,
 76.0, 71.5, 71.0, 74.0, 72.5, 72.3, 73.5, 76.0, 70.5, 70.8, 71.2, 71.0,
 71.8, 76.5, 75.5, 72.2, 76.0, 74.0, 71.2, 71.5, 69.8, 70.3, 70.0, 71.0,
 70.0]

env_min = [
 64.3, 64.5, 64.6, 64.8, 65.3, 65.2, 65.4, 65.8, 65.6, 65.8, 66.3, 66.0,
 66.1, 66.5, 66.7, 67.2, 66.0, 65.9, 66.0, 66.4, 66.2, 66.2, 66.0, 66.2,
 66.4, 65.9, 65.4, 65.1, 64.8, 64.4, 64.1, 64.1, 63.9, 64.1, 64.3, 64.5,
 64.5, 64.4, 64.3, 64.2, 64.1, 64.4, 64.7, 64.9, 65.0, 64.9, 64.8, 65.0,
 65.2, 65.1, 65.0, 64.8, 64.6, 64.7, 64.9, 65.0, 65.0, 64.8, 64.9, 65.0,
 64.9, 65.1, 65.2, 65.1, 65.2, 65.3, 65.3, 65.2, 65.4, 65.6, 65.9, 66.2,
 67.3, 67.3, 67.1, 66.9, 66.7, 66.5, 66.1, 66.2, 66.4, 66.7, 66.1, 66.5,
 66.9, 67.2, 66.6, 66.4, 65.2, 64.8, 64.9, 64.7, 64.5, 64.3, 64.2, 64.1,
 64.0, 63.8, 63.6, 63.4, 63.3, 63.4, 63.5, 63.4, 63.2, 63.0, 62.5, 64.5,
 66.5, 66.9, 67.0, 67.1, 67.1, 67.0, 66.9, 67.0, 66.9, 66.8, 66.8, 66.7,
 66.8, 67.0, 67.1, 67.2, 67.3, 67.3, 67.4, 67.4, 67.5, 67.8, 67.3, 67.3,
 67.5, 67.8, 67.6, 67.8, 67.5, 67.6, 67.6, 67.8, 67.4, 67.5, 67.5, 67.4,
 67.4, 67.8, 67.6, 67.8, 67.3, 67.5, 68.3, 68.5, 67.8, 67.7, 67.6, 68.1,
 67.7, 68.0, 67.8, 68.2, 67.9, 68.5, 68.1, 68.3, 67.8, 68.3, 67.9, 68.1,
 67.7, 68.0, 67.7, 68.2, 67.9, 68.4, 68.0, 68.6, 68.4, 69.5, 70.8, 71.5,
 69.5, 66.5, 67.0, 66.0, 66.4, 68.3, 66.8, 64.9, 64.3, 64.0, 63.9, 63.7,
 63.7, 63.8, 63.7, 63.9, 64.0, 64.1, 64.1, 64.2, 64.4, 64.4, 64.4, 64.6,
 64.6, 64.6, 64.4, 64.3, 64.2, 64.1, 64.0, 64.1, 64.2, 64.3, 64.2, 64.1,
 64.1, 64.1, 64.2, 64.2, 64.1, 64.0, 63.9, 64.0, 64.1, 64.0, 63.9, 63.8,
 63.7, 63.4, 63.1, 62.4, 62.4, 62.2, 62.1, 61.9, 61.9, 62.2, 62.1, 62.3,
 62.9, 67.5, 68.5, 66.9, 66.0, 67.0, 65.6, 66.3, 65.4, 66.2, 64.7, 64.3,
 64.1, 64.8, 66.5, 66.6, 67.8, 69.5, 69.8, 67.6, 66.1, 65.3, 65.3, 67.5,
 66.0, 65.6, 65.4, 65.3, 64.8, 64.5, 64.3, 64.3, 64.5, 64.6, 64.8, 65.3,
 66.3, 66.7, 66.8, 66.6, 66.2, 66.0, 65.8, 65.6, 65.3, 65.2, 65.1, 65.0,
 64.9]

y_ticks = [24, 36, 48, 60, 72, 84, 96, 108]

for _n, _s in [("avg_z", avg_z), ("avg_c", avg_c), ("avg_a", avg_a), ("peak_z", peak_z),
               ("peak_c", peak_c), ("peak_a", peak_a), ("lvl_z", lvl_z), ("lvl_c", lvl_c),
               ("lvl_a", lvl_a), ("env_max", env_max), ("env_min", env_min)]:
    assert len(_s) == len(times), (_n, len(_s))
for _n, _s in [("peak_z2", peak_z2), ("peak_c2", peak_c2), ("peak_a2", peak_a2)]:
    assert len(_s) == len(times2), (_n, len(_s))

# ---------------- styling ----------------
FONT = "DejaVu Sans"
W, H = 2400, 1200
L, R, T, B = 58, 2343, 84, 1149          # plot block in pixels
TOP_BOTTOM_PX, BOT_TOP_PX = 588, 644


def px_x(px):
    return (px - L) / (R - L)


def px_y(py):
    return (B - py) / (B - T)


X_RANGE = ["2024-05-26 00:00:00", "2024-05-26 23:59:00"]
BG = "#fff8dc"

fig = go.Figure()

# ---- top panel: peaks (markers) ----
peak_x = list(times) + list(times2)
peak_style = [("peak dB(Z)", peak_z + peak_z2, "rgba(30,144,255,0.75)", "#1e90ff"),
              ("peak dB(C)", peak_c + peak_c2, "rgba(255,0,255,0.75)", "#ff00ff"),
              ("peak dB(A)", peak_a + peak_a2, "rgba(46,139,87,0.8)", "#2e8b57")]
for name, vals, col, _ in peak_style:
    fig.add_trace(go.Scatter(x=peak_x, y=vals, mode="markers", name=name,
                             marker=dict(symbol="cross-thin", size=4.5, color=col,
                                         line=dict(width=1.3, color=col)),
                             xaxis="x", yaxis="y", showlegend=False))

avg_style = [("avg dB(Z)", avg_z, "#4682b4"),
             ("avg dB(C)", avg_c, "#da70d6"),
             ("avg dB(A)", avg_a, "#9acd32")]
for name, vals, col in avg_style:
    fig.add_trace(go.Scatter(x=times, y=vals, mode="lines", name=name,
                             line=dict(color=col, width=1.5),
                             xaxis="x", yaxis="y", showlegend=False))

# ---- bottom panel: envelope + 5 min levels ----
fig.add_trace(go.Scatter(x=times, y=env_min, mode="lines", line=dict(width=0, color="rgba(0,0,0,0)"),
                         xaxis="x2", yaxis="y2", showlegend=False, hoverinfo="skip"))
fig.add_trace(go.Scatter(x=times, y=env_max, mode="lines", line=dict(width=0.6, color="rgba(240,150,120,0.35)"),
                         fill="tonexty", fillcolor="rgba(240,150,120,0.33)",
                         xaxis="x2", yaxis="y2", showlegend=False, name="envelope"))

lvl_style = [("dB(Z)", lvl_z, "#dc143c"),
             ("dB(C)", lvl_c, "#ff8c00"),
             ("dB(A)", lvl_a, "#ffd700")]
for name, vals, col in lvl_style:
    fig.add_trace(go.Scatter(x=times, y=vals, mode="lines", name=name,
                             line=dict(color=col, width=1.5),
                             xaxis="x2", yaxis="y2", showlegend=False))

# invisible traces carrying the right-hand y axes
fig.add_trace(go.Scatter(x=[times[0]], y=[24], mode="markers", marker=dict(opacity=0, size=1),
                         xaxis="x", yaxis="y3", showlegend=False, hoverinfo="skip"))
fig.add_trace(go.Scatter(x=[times[0]], y=[24], mode="markers", marker=dict(opacity=0, size=1),
                         xaxis="x2", yaxis="y4", showlegend=False, hoverinfo="skip"))


def xaxis(fmt, anchor):
    return dict(type="date", range=X_RANGE, anchor=anchor, domain=[0, 1],
                tickmode="linear", tick0="2024-05-26 00:00:00", dtick=7200000,
                tickformat=fmt, ticks="outside", ticklen=6, tickwidth=1, tickcolor="black",
                tickfont=dict(family=FONT, size=7.5, color="#222"),
                showline=True, linecolor="black", linewidth=1.5, mirror=True,
                showgrid=True, gridcolor="#b0b0b0", gridwidth=1.3, zeroline=False,
                minor=dict(tick0="2024-05-26 00:00:00", dtick=1800000, ticks="outside",
                           ticklen=3.5, tickcolor="black", showgrid=True,
                           gridcolor="#d2d2d2", griddash="2px,2px", gridwidth=1),
                title=dict(text="time", font=dict(family=FONT, size=11, color="#111"), standoff=9),
                fixedrange=True)


def yaxis(domain, anchor, side="left", overlay=None):
    d = dict(range=[24, 108], domain=domain, anchor=anchor, side=side,
             tickmode="array", tickvals=y_ticks, ticktext=[str(v) for v in y_ticks],
             ticks="outside", ticklen=6, tickwidth=1, tickcolor="black",
             tickfont=dict(family=FONT, size=7.5, color="#222"),
             showline=True, linecolor="black", linewidth=1.5,
             zeroline=False,
             title=dict(text="dB SPL", font=dict(family=FONT, size=11, color="#111"), standoff=6),
             fixedrange=True)
    if overlay is None:
        d.update(showgrid=True, gridcolor="#b0b0b0", gridwidth=1.3, mirror=True,
                 minor=dict(tickmode="linear", tick0=24, dtick=3, ticks="outside", ticklen=3.5,
                            tickcolor="black", showgrid=True, gridcolor="#bdbdbd",
                            griddash="4px,2px", gridwidth=1))
    else:
        d.update(overlaying=overlay, showgrid=False,
                 minor=dict(tickmode="linear", tick0=24, dtick=3, ticks="outside", ticklen=3.5,
                            tickcolor="black", showgrid=False))
    return d


top_dom = [px_y(TOP_BOTTOM_PX), 1.0]
bot_dom = [0.0, px_y(BOT_TOP_PX)]

fig.update_layout(
    width=W, height=H,
    margin=dict(l=L, r=W - R, t=T, b=H - B, autoexpand=False),
    paper_bgcolor="white", plot_bgcolor=BG,
    font=dict(family=FONT, color="#111"),
    showlegend=False,
    xaxis=xaxis("%H:%M", "y"),
    xaxis2=xaxis("%H:%M:%S", "y2"),
    yaxis=yaxis(top_dom, "x"),
    yaxis2=yaxis(bot_dom, "x2"),
    yaxis3=yaxis(top_dom, "x", side="right", overlay="y"),
    yaxis4=yaxis(bot_dom, "x2", side="right", overlay="y2"),
)

annotations = []
shapes = []

# figure title + panel titles
annotations.append(dict(xref="paper", yref="paper", x=px_x(24), y=px_y(8), xanchor="left", yanchor="top",
                        align="left", showarrow=False,
                        text="<b>data from [425/mic0]<br>starting point is [20240526_000053]</b>",
                        font=dict(family=FONT, size=13.7, color="black")))
annotations.append(dict(xref="paper", yref="paper", x=px_x(57), y=px_y(81), xanchor="left", yanchor="bottom",
                        showarrow=False, text="<b>average and peak noise level (1 min sampling)</b>",
                        font=dict(family=FONT, size=11.6, color="black")))
annotations.append(dict(xref="paper", yref="paper", x=px_x(57), y=px_y(641), xanchor="left", yanchor="bottom",
                        showarrow=False, text="<b>average noise level (5 min with 15s min/max dB envelope)</b>",
                        font=dict(family=FONT, size=11.6, color="black")))

# legend boxes (drawn manually to match the compact two-column legend)
LEG_FILL = "rgba(255,248,220,0.9)"
LEG_LINE = "#dcc08f"
shapes.append(dict(type="rect", xref="paper", yref="paper", x0=px_x(2155), x1=px_x(2338),
                   y0=px_y(583), y1=px_y(543), fillcolor=LEG_FILL, line=dict(color=LEG_LINE, width=1), layer="above"))
rows_top = [549, 561, 573]
for (name, _, _, solid), ry in zip(peak_style, rows_top):
    shapes.append(dict(type="circle", xref="paper", yref="paper", x0=px_x(2167), x1=px_x(2172),
                       y0=px_y(ry + 2.5), y1=px_y(ry - 2.5), fillcolor=solid,
                       line=dict(width=0), layer="above"))
    annotations.append(dict(xref="paper", yref="paper", x=px_x(2185), y=px_y(ry), xanchor="left",
                            yanchor="middle", showarrow=False, text=name,
                            font=dict(family=FONT, size=9.5, color="black")))
for (name, _, col), ry in zip(avg_style, rows_top):
    shapes.append(dict(type="line", xref="paper", yref="paper", x0=px_x(2258), x1=px_x(2280),
                       y0=px_y(ry), y1=px_y(ry), line=dict(color=col, width=4), layer="above"))
    annotations.append(dict(xref="paper", yref="paper", x=px_x(2285), y=px_y(ry), xanchor="left",
                            yanchor="middle", showarrow=False, text=name,
                            font=dict(family=FONT, size=9.5, color="black")))

shapes.append(dict(type="rect", xref="paper", yref="paper", x0=px_x(2277), x1=px_x(2338),
                   y0=px_y(1144), y1=px_y(1103), fillcolor=LEG_FILL, line=dict(color=LEG_LINE, width=1), layer="above"))
rows_bot = [1112, 1123, 1135]
for (name, _, col), ry in zip(lvl_style, rows_bot):
    shapes.append(dict(type="line", xref="paper", yref="paper", x0=px_x(2279), x1=px_x(2301),
                       y0=px_y(ry), y1=px_y(ry), line=dict(color=col, width=4), layer="above"))
    annotations.append(dict(xref="paper", yref="paper", x=px_x(2306), y=px_y(ry), xanchor="left",
                            yanchor="middle", showarrow=False, text=name,
                            font=dict(family=FONT, size=9.5, color="black")))

fig.update_layout(annotations=annotations, shapes=shapes)

fig.write_html("out.html", config={"displayModeBar": False},
               post_script="document.body.style.margin='0';document.body.style.overflow='hidden';")
